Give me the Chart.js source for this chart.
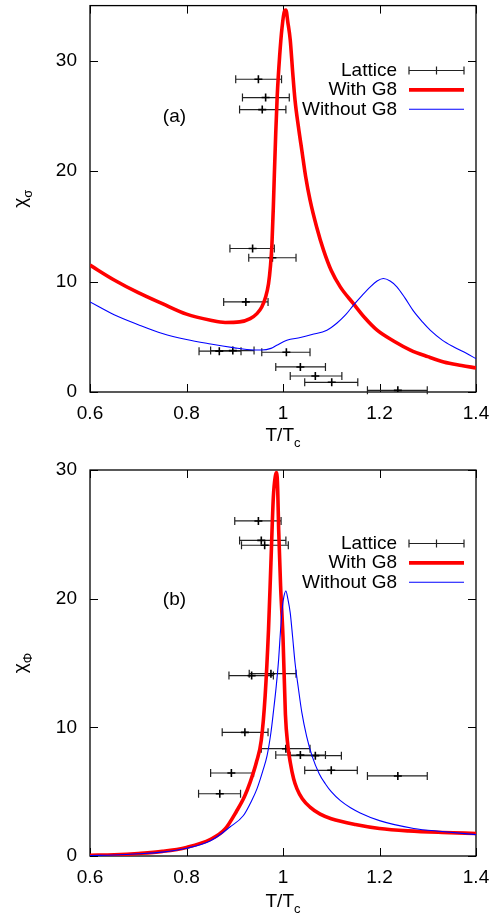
<!DOCTYPE html>
<html lang="en">
<head>
<meta charset="UTF-8">
<title>Susceptibilities chi_sigma and chi_Phi</title>
<script src="https://cdn.jsdelivr.net/npm/chart.js@4.4.0/dist/chart.umd.min.js"></script>
<style>
  html, body { margin: 0; padding: 0; background: #fff; }
  .panel { position: absolute; left: 0; width: 498px; height: 458px; }
</style>
</head>
<body>
<div class="panel" style="top:0"><canvas id="chartA" width="498" height="458"></canvas></div>
<div class="panel" style="top:458px"><canvas id="chartB" width="498" height="458"></canvas></div>
<script>
// ---- axis ticks ----
const xTicks = [0.6, 0.8, 1.0, 1.2, 1.4];
const yTicksA = [0, 10, 20, 30];
const yTicksB = [0, 10, 20, 30];

// ---- panel (a): chi_sigma ----
const latA_T   = [0.949, 0.964, 0.957, 0.937, 0.978, 0.923, 0.868, 0.896, 1.007, 1.036, 1.067, 1.101, 1.238];
const latA_lo  = [0.902, 0.916, 0.910, 0.890, 0.929, 0.877, 0.826, 0.850, 0.956, 0.985, 1.015, 1.045, 1.175];
const latA_hi  = [0.997, 1.013, 1.006, 0.982, 1.027, 0.969, 0.913, 0.940, 1.056, 1.088, 1.122, 1.155, 1.299];
const latA_chi = [28.33, 26.67, 25.58, 13.0, 12.16, 8.16, 3.7, 3.75, 3.6, 2.27, 1.45, 0.88, 0.15];

const withA_T   = [0.600, 0.650, 0.700, 0.750, 0.800, 0.850, 0.880, 0.910, 0.932, 0.946, 0.956, 0.964, 0.970, 0.974, 0.977, 0.980, 0.982, 0.985, 0.988, 0.993, 0.998, 1.003, 1.006, 1.010, 1.015, 1.020, 1.025, 1.032, 1.039, 1.047, 1.056, 1.070, 1.084, 1.100, 1.119, 1.146, 1.170, 1.195, 1.230, 1.264, 1.300, 1.333, 1.370, 1.400];
const withA_chi = [11.49, 10.15, 9.0, 8.0, 7.05, 6.5, 6.3, 6.35, 6.65, 7.1, 7.7, 8.6, 9.8, 11.4, 13.3, 16.8, 19.6, 23.5, 26.8, 30.4, 33.0, 34.5, 34.6, 33.5, 31.9, 29.0, 26.4, 24.0, 21.9, 19.5, 17.4, 14.9, 12.85, 11.0, 9.5, 8.0, 6.7, 5.6, 4.6, 3.8, 3.2, 2.72, 2.4, 2.18];

const woA_T   = [0.600, 0.650, 0.700, 0.750, 0.800, 0.850, 0.900, 0.925, 0.956, 0.975, 0.987, 1.008, 1.036, 1.060, 1.091, 1.112, 1.130, 1.146, 1.165, 1.181, 1.195, 1.208, 1.222, 1.236, 1.253, 1.271, 1.290, 1.305, 1.330, 1.354, 1.380, 1.400];
const woA_chi = [8.16, 7.0, 6.1, 5.3, 4.75, 4.35, 4.0, 3.85, 3.8, 3.95, 4.23, 4.69, 4.93, 5.2, 5.6, 6.25, 7.0, 7.86, 8.8, 9.53, 10.05, 10.28, 10.05, 9.53, 8.5, 7.3, 6.3, 5.6, 4.7, 4.08, 3.5, 3.02];

// ---- panel (b): chi_Phi ----
const latB_T   = [0.949, 0.955, 0.962, 0.935, 0.975, 0.921, 1.006, 1.036, 1.067, 1.100, 1.238, 0.893, 0.869];
const latB_lo  = [0.900, 0.910, 0.914, 0.888, 0.930, 0.874, 0.955, 0.985, 1.015, 1.045, 1.175, 0.850, 0.825];
const latB_hi  = [0.996, 1.006, 1.011, 0.980, 1.027, 0.969, 1.056, 1.088, 1.121, 1.154, 1.299, 0.939, 0.912];
const latB_chi = [26.04, 24.53, 24.15, 14.02, 14.17, 9.61, 8.34, 7.85, 7.8, 6.66, 6.22, 6.45, 4.84];

const withB_T   = [0.600, 0.650, 0.700, 0.750, 0.800, 0.850, 0.880, 0.904, 0.920, 0.932, 0.945, 0.955, 0.963, 0.970, 0.975, 0.980, 0.984, 0.987, 0.989, 0.991, 0.995, 1.000, 1.005, 1.010, 1.015, 1.022, 1.029, 1.040, 1.056, 1.077, 1.100, 1.150, 1.200, 1.260, 1.330, 1.400];
const withB_chi = [0.05, 0.1, 0.2, 0.36, 0.67, 1.3, 2.1, 3.5, 4.6, 5.74, 7.3, 9.0, 12.45, 17.6, 22.8, 27.9, 29.5, 29.8, 28.5, 25.4, 21.0, 17.0, 11.0, 8.6, 7.29, 6.0, 5.22, 4.45, 3.8, 3.25, 2.9, 2.45, 2.14, 1.95, 1.83, 1.75];

const woB_T   = [0.600, 0.650, 0.700, 0.750, 0.800, 0.850, 0.890, 0.918, 0.935, 0.946, 0.958, 0.967, 0.975, 0.980, 0.986, 0.991, 0.995, 0.999, 1.002, 1.006, 1.010, 1.015, 1.020, 1.025, 1.032, 1.039, 1.049, 1.060, 1.075, 1.088, 1.100, 1.119, 1.140, 1.160, 1.200, 1.271, 1.330, 1.400];
const woB_chi = [0.03, 0.08, 0.17, 0.3, 0.6, 1.19, 2.25, 3.15, 4.3, 5.22, 6.6, 7.8, 9.6, 11.16, 13.2, 15.3, 17.6, 19.4, 20.2, 20.6, 20.0, 18.9, 17.0, 15.0, 13.0, 11.16, 9.3, 7.8, 6.4, 5.6, 5.0, 4.3, 3.75, 3.35, 2.75, 2.14, 1.9, 1.66];

const FONT = '"Liberation Sans", Arial, Helvetica, sans-serif';

function pts(xs, ys) {
    return xs.map((x, i) => ({ x: x, y: ys[i] }));
}
function errPts(xs, ys, lo, hi) {
    return xs.map((x, i) => ({ x: x, y: ys[i], xMin: lo[i], xMax: hi[i] }));
}

// gnuplot-like frame: box + inward ticks on all four sides
const framePlugin = {
    id: 'frame',
    beforeDatasetsDraw(chart) {
        const { ctx, chartArea: a, scales } = chart;
        ctx.save();
        ctx.strokeStyle = '#000';
        ctx.lineWidth = 1;
        const tl = 8;
        ctx.beginPath();
        scales.x.ticks.forEach(t => {
            const px = Math.round(scales.x.getPixelForValue(t.value)) + 0.5;
            ctx.moveTo(px, a.bottom); ctx.lineTo(px, a.bottom - tl);
            ctx.moveTo(px, a.top); ctx.lineTo(px, a.top + tl);
        });
        scales.y.ticks.forEach(t => {
            const py = Math.round(scales.y.getPixelForValue(t.value)) + 0.5;
            ctx.moveTo(a.left, py); ctx.lineTo(a.left + tl, py);
            ctx.moveTo(a.right, py); ctx.lineTo(a.right - tl, py);
        });
        ctx.stroke();
        ctx.lineWidth = 1.3;
        ctx.strokeRect(a.left, a.top, a.right - a.left, a.bottom - a.top);

        // horizontal error bars
        chart.data.datasets.forEach(ds => {
            if (!ds.errorBars) return;
            ctx.strokeStyle = '#222';
            ctx.lineWidth = 1.2;
            ctx.beginPath();
            ds.data.forEach(p => {
                const y = scales.y.getPixelForValue(p.y);
                const x0 = scales.x.getPixelForValue(p.xMin);
                const x1 = scales.x.getPixelForValue(p.xMax);
                ctx.moveTo(x0, y); ctx.lineTo(x1, y);
                ctx.moveTo(x0, y - 4); ctx.lineTo(x0, y + 4);
                ctx.moveTo(x1, y - 4); ctx.lineTo(x1, y + 4);
            });
            ctx.stroke();
        });
        ctx.restore();
    },
    afterDraw(chart) {
        const { ctx, chartArea: a, scales } = chart;
        const o = chart.options.plugins.frame;
        ctx.save();
        ctx.fillStyle = '#000';
        ctx.textBaseline = 'middle';

        // axis titles with subscripts
        const big = '19px ' + FONT, small = '13px ' + FONT;
        ctx.font = big;
        const wT = ctx.measureText('T/T').width;
        ctx.font = small;
        const wc = ctx.measureText('c').width;
        let x = (a.left + a.right) / 2 - (wT + wc) / 2;
        ctx.textAlign = 'left';
        ctx.font = big;
        ctx.fillText('T/T', x, o.xTitleY);
        ctx.font = small;
        ctx.fillText('c', x + wT, o.xTitleY + 7);

        ctx.save();
        ctx.translate(24, (a.top + a.bottom) / 2);
        ctx.rotate(-Math.PI / 2);
        ctx.font = big;
        const wChi = ctx.measureText('\u03c7').width;
        ctx.font = small;
        const wSub = ctx.measureText(o.yTitleSub).width;
        const sx = -(wChi + wSub) / 2;
        ctx.font = big;
        ctx.fillText('\u03c7', sx, -3);
        ctx.font = small;
        ctx.fillText(o.yTitleSub, sx + wChi, 4);
        ctx.restore();

        // panel tag
        ctx.font = big;
        ctx.textAlign = 'center';
        ctx.fillText(o.tag, scales.x.getPixelForValue(o.tagAt[0]), scales.y.getPixelForValue(o.tagAt[1]));

        // key, top right
        o.legendOrder.forEach((label, i) => {
            const ds = chart.data.datasets.find(d => d.label === label);
            const y = o.legendY + i * o.legendStep;
            const textRight = a.right - 79, s0 = a.right - 67, s1 = a.right - 12;
            ctx.font = big;
            ctx.textAlign = 'right';
            ctx.fillStyle = '#000';
            ctx.fillText(label, textRight, y);
            ctx.beginPath();
            if (ds.errorBars) {
                ctx.strokeStyle = '#222';
                ctx.lineWidth = 1.2;
                const m = (s0 + s1) / 2;
                ctx.moveTo(s0, y); ctx.lineTo(s1, y);
                ctx.moveTo(s0, y - 4); ctx.lineTo(s0, y + 4);
                ctx.moveTo(s1, y - 4); ctx.lineTo(s1, y + 4);
                ctx.moveTo(m, y - 4); ctx.lineTo(m, y + 4);
            } else {
                ctx.strokeStyle = ds.borderColor;
                ctx.lineWidth = ds.borderWidth;
                ctx.moveTo(s0, y); ctx.lineTo(s1, y);
            }
            ctx.stroke();
        });
        ctx.restore();
    }
};

function makePanel(id, p) {
    const datasets = [
        {
            label: 'Without G8',
            data: pts(p.woT, p.woChi),
            showLine: true,
            borderColor: '#0000ff',
            borderWidth: 1.1,
            pointRadius: 0,
            cubicInterpolationMode: 'monotone'
        },
        {
            label: 'With G8',
            data: pts(p.withT, p.withChi),
            showLine: true,
            borderColor: '#ff0000',
            borderWidth: 3.6,
            pointRadius: 0,
            cubicInterpolationMode: 'monotone'
        },
        {
            label: 'Lattice',
            data: errPts(p.latT, p.latChi, p.latLo, p.latHi),
            errorBars: true,
            showLine: false,
            pointStyle: 'cross',
            pointRadius: 4,
            borderColor: '#000',
            borderWidth: 1.6
        }
    ];

    return new Chart(document.getElementById(id), {
        type: 'scatter',
        data: { datasets: datasets },
        options: {
            responsive: false,
            animation: false,
            layout: { padding: { top: p.top, right: 22, left: 0, bottom: 0 } },
            plugins: {
                legend: { display: false },
                tooltip: { enabled: false },
                frame: {
                    xTitleY: p.xTitleY,
                    yTitleSub: p.yTitleSub,
                    tag: p.tag,
                    tagAt: p.tagAt,
                    legendOrder: ['Lattice', 'With G8', 'Without G8'],
                    legendY: p.legendY,
                    legendStep: 19.4
                }
            },
            scales: {
                x: {
                    type: 'linear',
                    min: 0.6,
                    max: 1.4,
                    grid: { display: false, drawTicks: false },
                    border: { display: false },
                    afterBuildTicks: s => { s.ticks = xTicks.map(v => ({ value: v })); },
                    afterFit: s => { s.height = p.xAxisH; s.paddingLeft = 0; s.paddingRight = 0; },
                    ticks: {
                        padding: 10,
                        maxRotation: 0,
                        color: '#000',
                        font: { family: FONT, size: 19 },
                        callback: v => String(+Number(v).toFixed(1))
                    }
                },
                y: {
                    type: 'linear',
                    min: 0,
                    max: p.yMax,
                    grid: { display: false, drawTicks: false },
                    border: { display: false },
                    afterBuildTicks: s => { s.ticks = p.yTicks.map(v => ({ value: v })); },
                    afterFit: s => { s.width = 90; s.paddingTop = 0; s.paddingBottom = 0; },
                    ticks: {
                        padding: 13,
                        color: '#000',
                        font: { family: FONT, size: 19 },
                        callback: v => String(v)
                    }
                }
            }
        },
        plugins: [framePlugin]
    });
}

makePanel('chartA', {
    top: 5, xAxisH: 66, yMax: 35, yTicks: yTicksA,
    latT: latA_T, latChi: latA_chi, latLo: latA_lo, latHi: latA_hi,
    withT: withA_T, withChi: withA_chi, woT: woA_T, woChi: woA_chi,
    xTitleY: 436, yTitleSub: '\u03c3', tag: '(a)', tagAt: [0.775, 24.9], legendY: 70.5
});

makePanel('chartB', {
    top: 12, xAxisH: 60, yMax: 30, yTicks: yTicksB,
    latT: latB_T, latChi: latB_chi, latLo: latB_lo, latHi: latB_hi,
    withT: withB_T, withChi: withB_chi, woT: woB_T, woChi: woB_chi,
    xTitleY: 444, yTitleSub: '\u03a6', tag: '(b)', tagAt: [0.775, 19.9], legendY: 85.5
});
</script>
</body>
</html>
